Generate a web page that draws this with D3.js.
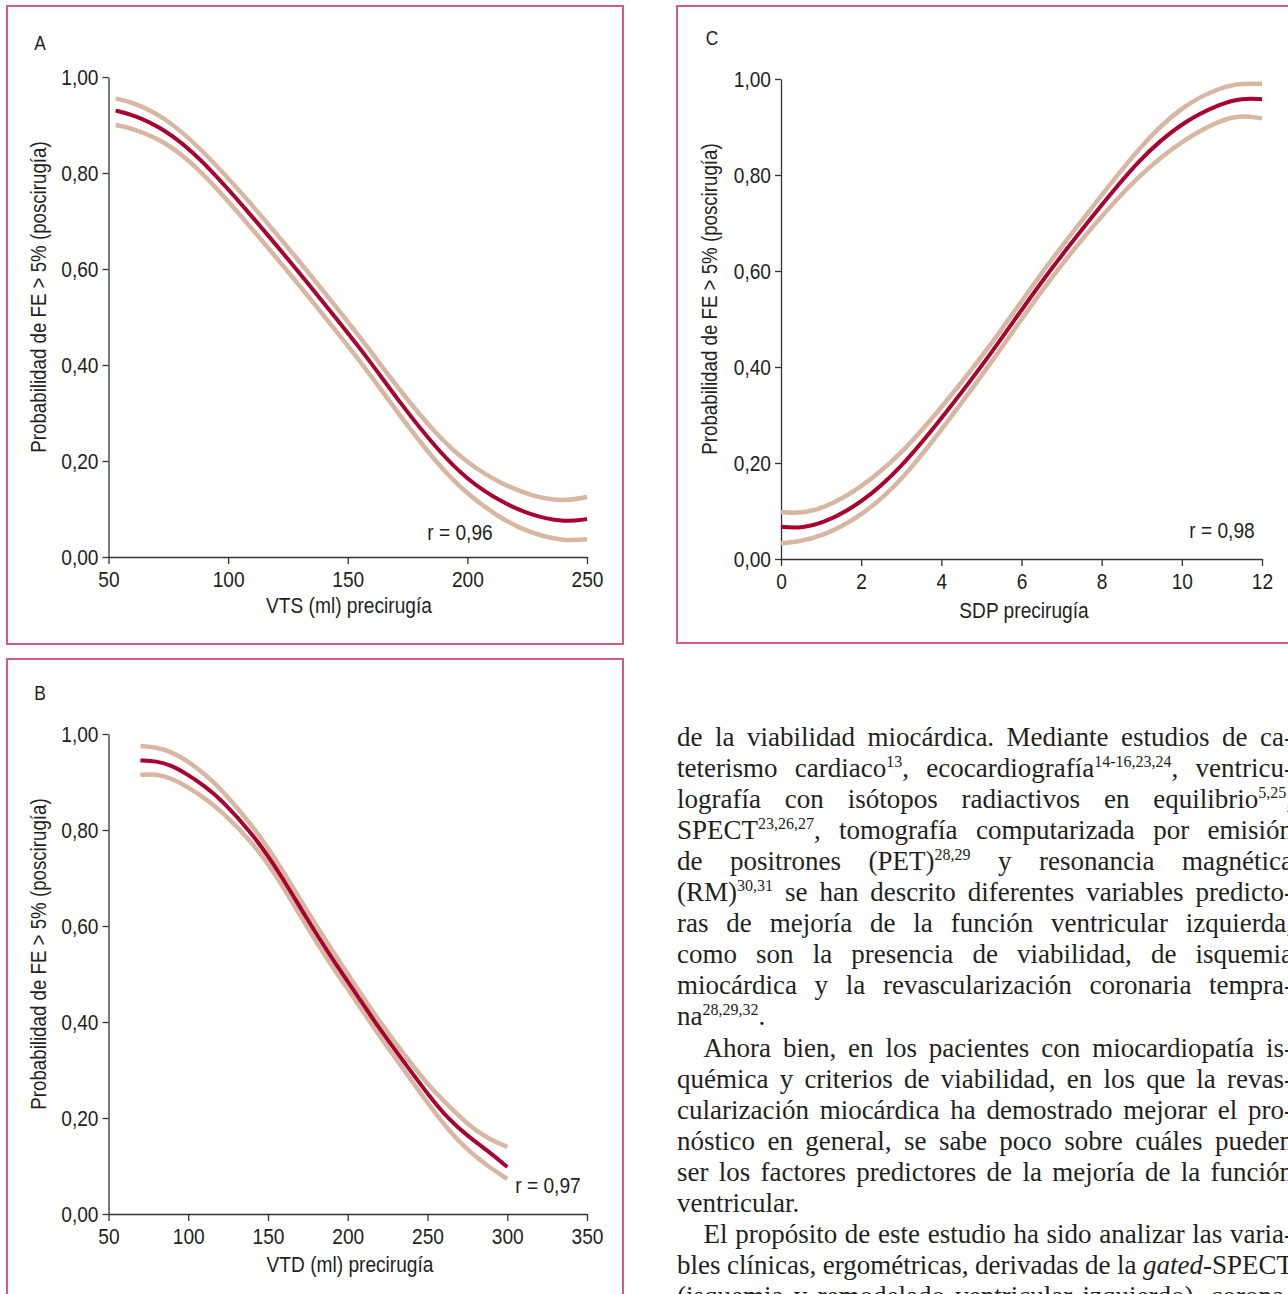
<!DOCTYPE html>
<meta charset="utf-8">
<script src="https://d3js.org/d3.v7.min.js"></script>
<style>
  body { margin: 0; background: #fff; overflow: hidden; }
  svg { display: block; }
  .lbl { font-family: "Liberation Sans", Arial, sans-serif; fill: #231f20; }
  .body { font-family: "Liberation Serif", "Times New Roman", serif; fill: #231f20; }
</style>
<svg id="fig" width="1288" height="1294"></svg>
<script>
  // ---- data ----
  // A: VTS (ml) precirugia
  var vtsX   = [53, 60, 73, 88, 109, 130, 144, 158, 172, 187, 200, 214, 226, 240, 250];
  var vtsMid = [0.930, 0.922, 0.893, 0.834, 0.716, 0.591, 0.504, 0.417, 0.320, 0.226, 0.160, 0.115, 0.088, 0.072, 0.079];
  var vtsHi  = [0.955, 0.948, 0.918, 0.855, 0.740, 0.615, 0.528, 0.440, 0.345, 0.255, 0.195, 0.153, 0.128, 0.115, 0.125];
  var vtsLo  = [0.900, 0.893, 0.868, 0.810, 0.690, 0.565, 0.478, 0.390, 0.293, 0.196, 0.130, 0.080, 0.050, 0.033, 0.037];

  // B: VTD (ml) precirugia
  var vtdX   = [70, 80, 90, 100, 110, 120, 141, 158, 174, 189, 206, 220, 237, 251, 263, 276, 289, 300];
  var vtdMid = [0.945, 0.944, 0.934, 0.915, 0.892, 0.866, 0.790, 0.707, 0.617, 0.538, 0.455, 0.385, 0.309, 0.246, 0.198, 0.160, 0.129, 0.098];
  var vtdHi  = [0.975, 0.973, 0.962, 0.943, 0.917, 0.888, 0.807, 0.723, 0.634, 0.555, 0.470, 0.400, 0.325, 0.266, 0.226, 0.184, 0.155, 0.140];
  var vtdLo  = [0.915, 0.917, 0.907, 0.889, 0.867, 0.842, 0.773, 0.691, 0.600, 0.521, 0.440, 0.370, 0.292, 0.227, 0.175, 0.130, 0.097, 0.073];

  // C: SDP precirugia
  var sdpX   = [0, 0.4, 1, 2, 3, 4, 5.26, 6.51, 7.76, 8.95, 10, 11, 11.5, 12];
  var sdpMid = [0.067, 0.064, 0.072, 0.115, 0.190, 0.292, 0.429, 0.581, 0.713, 0.835, 0.910, 0.950, 0.960, 0.958];
  var sdpHi  = [0.098, 0.095, 0.102, 0.148, 0.218, 0.315, 0.447, 0.599, 0.732, 0.860, 0.945, 0.984, 0.991, 0.990];
  var sdpLo  = [0.033, 0.036, 0.046, 0.088, 0.162, 0.268, 0.410, 0.562, 0.693, 0.802, 0.872, 0.916, 0.924, 0.918];

  var yTicks = [0, 0.2, 0.4, 0.6, 0.8, 1];
  var yTitle = "Probabilidad de FE > 5% (poscirugía)";

  var panels = [
    { id: "A", xs: vtsX, mid: vtsMid, hi: vtsHi, lo: vtsLo, dom: [50, 250], ticks: [50, 100, 150, 200, 250],
      title: "VTS (ml) precirugía", r: "r = 0,96",
      box: [7, 6, 616, 638], xr: [108.5, 587], yr: [557, 77], lab: [40, 50], xt: [349, 613], yt: [45.5, 297], rp: [460, 540] },
    { id: "C", xs: sdpX, mid: sdpMid, hi: sdpHi, lo: sdpLo, dom: [0, 12], ticks: [0, 2, 4, 6, 8, 10, 12],
      title: "SDP precirugía", r: "r = 0,98",
      box: [677, 6, 660, 637], xr: [781, 1262], yr: [559, 79], lab: [712, 45], xt: [1024, 618], yt: [717, 299], rp: [1222, 538] },
    { id: "B", xs: vtdX, mid: vtdMid, hi: vtdHi, lo: vtdLo, dom: [50, 350], ticks: [50, 100, 150, 200, 250, 300, 350],
      title: "VTD (ml) precirugía", r: "r = 0,97",
      box: [7, 659, 616, 680], xr: [108.5, 587], yr: [1214, 734], lab: [40, 700], xt: [350, 1272], yt: [45.5, 954], rp: [548, 1193] }
  ];

  var svg = d3.select("#fig");
  var fmt = function(v) { return d3.format(".2f")(v).replace(".", ","); };
  var sx = 0.87; // condensed look

  panels.forEach(function(p) {
    svg.append("rect")
      .attr("x", p.box[0]).attr("y", p.box[1])
      .attr("width", p.box[2]).attr("height", p.box[3])
      .attr("fill", "none").attr("stroke", "#cf5f7c").attr("stroke-width", 2);

    var x = d3.scaleLinear().domain(p.dom).range(p.xr);
    var y = d3.scaleLinear().domain([0, 1]).range(p.yr);

    var g = svg.append("g").attr("class", "lbl");

    var gx = g.append("g")
      .attr("transform", "translate(0," + p.yr[0] + ")")
      .call(d3.axisBottom(x).tickValues(p.ticks).tickSize(7).tickSizeOuter(0).tickPadding(7));
    var gy = g.append("g")
      .attr("transform", "translate(" + p.xr[0] + ",0)")
      .call(d3.axisLeft(y).tickValues(yTicks).tickFormat(fmt).tickSize(6).tickSizeOuter(0).tickPadding(4));
    [gx, gy].forEach(function(a) {
      a.selectAll("path, line").attr("stroke", "#333").attr("stroke-width", 1.3);
      a.selectAll("text").attr("fill", "#231f20").style("font-size", "22px").style("font-family", null)
        .attr("transform", "scale(" + sx + ",1)");
    });
    gy.selectAll("text").attr("x", -10 / sx);

    var put = function(pos, size, txt, rot) {
      return g.append("text")
        .attr("transform", "translate(" + pos[0] + "," + pos[1] + ")" + (rot ? " rotate(-90)" : "") + " scale(" + sx + ",1)")
        .attr("text-anchor", "middle").style("font-size", size + "px").text(txt);
    };
    put(p.lab, 20, p.id);
    put(p.xt, 22, p.title);
    put(p.yt, 21.5, yTitle, true);
    put(p.rp, 22, p.r);

    var line = function(vals) {
      return d3.line()
        .x(function(d, i) { return x(p.xs[i]); })
        .y(function(d) { return y(d); })
        .curve(d3.curveBasis)(vals);
    };
    [p.hi, p.lo].forEach(function(v) {
      svg.append("path").attr("d", line(v)).attr("fill", "none")
        .attr("stroke", "#d8b7a2").attr("stroke-width", 4.5);
    });
    svg.append("path").attr("d", line(p.mid)).attr("fill", "none")
      .attr("stroke", "#a8002f").attr("stroke-width", 4);
  });

  // ---- running text on the right ----
  var textLines = [
    { t: "de la viabilidad miocárdica. Mediante estudios de ca-", j: 1 },
    { t: "teterismo cardiaco<sup>13</sup>, ecocardiografía<sup>14-16,23,24</sup>, ventricu-", j: 1 },
    { t: "lografía con isótopos radiactivos en equilibrio<sup>5,25</sup>,", j: 1 },
    { t: "SPECT<sup>23,26,27</sup>, tomografía computarizada por emisión", j: 1 },
    { t: "de positrones (PET)<sup>28,29</sup> y resonancia magnética", j: 1 },
    { t: "(RM)<sup>30,31</sup> se han descrito diferentes variables predicto-", j: 1 },
    { t: "ras de mejoría de la función ventricular izquierda,", j: 1 },
    { t: "como son la presencia de viabilidad, de isquemia", j: 1 },
    { t: "miocárdica y la revascularización coronaria tempra-", j: 1 },
    { t: "na<sup>28,29,32</sup>.", j: 0 },
    { t: "Ahora bien, en los pacientes con miocardiopatía is-", j: 1, ind: 1 },
    { t: "quémica y criterios de viabilidad, en los que la revas-", j: 1 },
    { t: "cularización miocárdica ha demostrado mejorar el pro-", j: 1 },
    { t: "nóstico en general, se sabe poco sobre cuáles pueden", j: 1 },
    { t: "ser los factores predictores de la mejoría de la función", j: 1 },
    { t: "ventricular.", j: 0 },
    { t: "El propósito de este estudio ha sido analizar las varia-", j: 1, ind: 1 },
    { t: "bles clínicas, ergométricas, derivadas de la <i>gated</i>-SPECT", j: 1 },
    { t: "(isquemia y remodelado ventricular izquierdo), corona-", j: 1 }
  ];
  var tx0 = 677, tx1 = 1293, ty0 = 745.5, tdy = 31.1, indent = 26.5;

  var body = svg.append("g").attr("class", "body").style("font-size", "27px");
  textLines.forEach(function(d, i) {
    var x0 = tx0 + (d.ind ? indent : 0);
    var t = body.append("text").attr("x", x0).attr("y", ty0 + i * tdy).style("white-space", "pre");
    var up = false;
    d.t.split(/(<sup>.*?<\/sup>|<i>.*?<\/i>)/).filter(function(s) { return s.length; }).forEach(function(s) {
      var sp = t.append("tspan");
      if (s.indexOf("<sup>") === 0) {
        sp.text(s.slice(5, -6)).style("font-size", "16px").attr("dy", -10);
        up = true;
      } else {
        if (s.indexOf("<i>") === 0) sp.text(s.slice(3, -4)).style("font-style", "italic");
        else sp.text(s);
        if (up) { sp.attr("dy", 10); up = false; }
      }
    });
    if (d.j) {
      var w = t.node().getComputedTextLength();
      var n = d.t.replace(/<[^>]+>/g, "").split(" ").length - 1;
      t.style("word-spacing", ((tx1 - x0 - w) / n) + "px");
    }
  });
</script>
